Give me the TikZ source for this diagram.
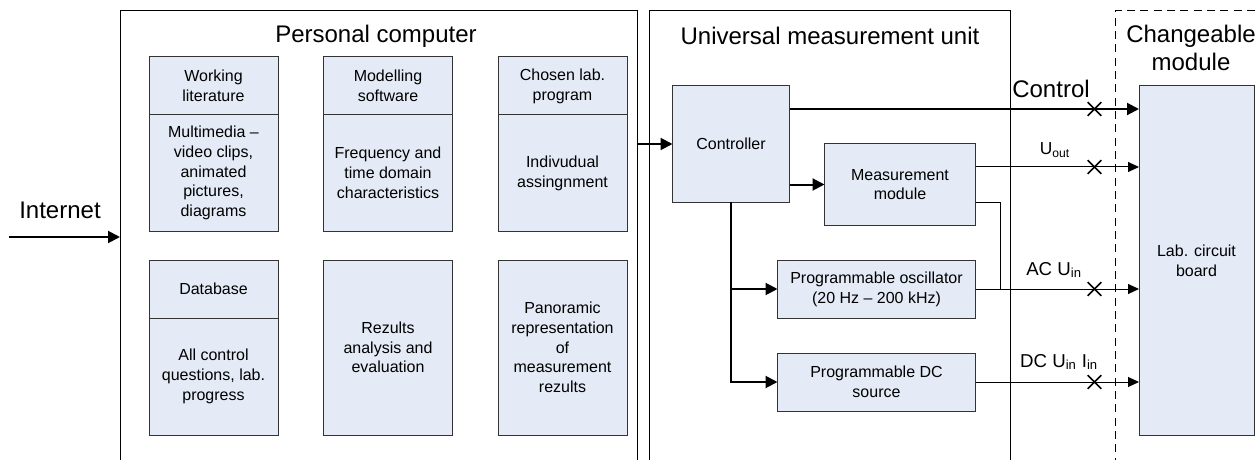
\documentclass[tikz,border=0pt]{standalone}
\usepackage{fontspec}
\setmainfont{Liberation Sans}
\definecolor{B}{HTML}{E5EBF6}
\definecolor{E}{HTML}{333333}
\newcommand*{\bodyfont}{\fontsize{12}{14.8}\selectfont}
\newcommand*{\sigfont}{\fontsize{14}{16}\selectfont}
\newcommand*{\bigfont}{\fontsize{18}{20.8}\selectfont}
\usetikzlibrary{arrows.meta}
\usetikzlibrary{positioning}
\usetikzlibrary{shapes.misc}
\tikzstyle{frame}=[draw, line width=0.75pt, inner sep=0pt, outer sep=0pt, anchor=north west, minimum height=375pt]
\tikzstyle{cell}=[draw=E, fill=B, line width=0.75pt, inner sep=2pt, outer sep=0pt, align=center, font=\bodyfont]
\tikzstyle{head}=[cell, minimum width=96.75pt, minimum height=43.5pt]
\tikzstyle{thick}=[line width=1.5pt, -{Triangle[length=9pt,width=9pt]}]
\tikzstyle{thin}=[line width=0.75pt, -{Triangle[length=8.25pt,width=7.5pt]}]
\tikzstyle{xmark}=[cross out, draw, line width=1.2pt, minimum size=9pt, inner sep=0pt]

\begin{document}
\begin{tikzpicture}[x=0.75pt, y=-0.75pt]
    \clip (0,0) rectangle (1258,460);
    % frames
    \node [frame, minimum width=387.75pt] (pc) at (120,11) {};
    \node [frame, minimum width=270.75pt] (umu) at (649.5,11) {};
    \node [frame, dashed, dash pattern=on 6pt off 4pt, minimum width=150pt] (chg) at (1115,11) {};
    \node [font=\bigfont] (pctitle) at (376,36) {Personal computer};
    \node [font=\bigfont] (umutitle) at (830,36) {Universal measurement unit};
    \node [font=\bigfont, align=center] (chgtitle) at (1191,48) {Changeable\\module};

    % personal computer
    \node [head] (wlit) at (213.5,86) {Working\\literature};
    \node [cell, minimum width=96.75pt, minimum height=87pt, below=0pt of wlit] (media) {Multimedia --\\video clips,\\animated\\pictures,\\diagrams};
    \node [head] (msoft) at (388,86) {Modelling\\software};
    \node [cell, minimum width=96.75pt, minimum height=87pt, below=0pt of msoft] (freq) {Frequency and\\time domain\\characteristics};
    \node [head] (prog) at (562.5,86) {Chosen lab.\\program};
    \node [cell, minimum width=96.75pt, minimum height=87pt, below=0pt of prog] (indiv) {Indivudual\\assingnment};
    \node [head] (db) at (213.5,289) {Database};
    \node [cell, minimum width=96.75pt, minimum height=87.75pt, below=0pt of db] (quest) {All control\\questions, lab.\\progress};
    \node [cell, minimum width=96.75pt, minimum height=131.25pt] (eval) at (388,347.5) {Rezults\\analysis and\\evaluation};
    \node [cell, minimum width=96.75pt, minimum height=131.25pt] (pano) at (562.5,347.5) {Panoramic\\representation\\of\\measurement\\rezults};

    % measurement unit
    \node [cell, minimum width=87.75pt, minimum height=87pt] (ctrl) at (731,144) {Controller};
    \node [cell, minimum width=113.25pt, minimum height=60.75pt] (meas) at (900,184.5) {Measurement\\module};
    \node [cell, minimum width=148.5pt, minimum height=43.5pt] (osc) at (876.5,289) {Programmable oscillator\\(20 Hz -- 200 kHz)};
    \node [cell, minimum width=148.5pt, minimum height=43.5pt] (dcs) at (876.5,382) {Programmable DC\\source};
    \node [cell, minimum width=86.25pt, minimum height=261.75pt] (board) at (1196.5,260.5) {Lab. circuit\\board};

    % connectors
    \coordinate (inet) at (9,237);
    \coordinate (yctl) at (0,109);
    \coordinate (yout) at (0,167);
    \coordinate (jn) at (1000,202);
    \node [font=\bigfont] (inettext) at (60,210) {Internet};
    \draw [thick] (inet) -- (inet -| pc.west);
    \draw [thick] (ctrl.west -| pc.east) -- (ctrl.west);
    \draw [thick] (ctrl.east |- yctl) -- (board.west |- yctl);
    \draw [thick] (ctrl.east |- meas.west) -- (meas.west);
    \draw [thick] (ctrl.south) |- (dcs.west);
    \draw [thick] (ctrl.south |- osc.west) -- (osc.west);
    \draw [thin] (meas.east |- yout) -- (board.west |- yout);
    \draw [line width=0.75pt] (meas.east |- jn) -| (jn |- osc.east);
    \draw [thin] (osc.east) -- (board.west |- osc.east);
    \draw [thin] (dcs.east) -- (board.west |- dcs.east);

    % break points
    \node [xmark] (xctl) at (1094.5,109) {};
    \node [xmark] (xout) at (1094.5,167) {};
    \node [xmark] (xac) at (1094.5,289) {};
    \node [xmark] (xdc) at (1094.5,382) {};

    % signal labels
    \node [font=\bigfont] (ctltext) at (1051,89) {Control};
    \node [font=\fontsize{13}{15}\selectfont] (outtext) at (1055,150) {U\textsubscript{out}};
    \node [font=\sigfont] (actext) at (1054,270) {AC U\textsubscript{in}};
    \node [font=\sigfont] (dctext) at (1059,362) {DC U\textsubscript{in} I\textsubscript{in}};
\end{tikzpicture}
\end{document}
